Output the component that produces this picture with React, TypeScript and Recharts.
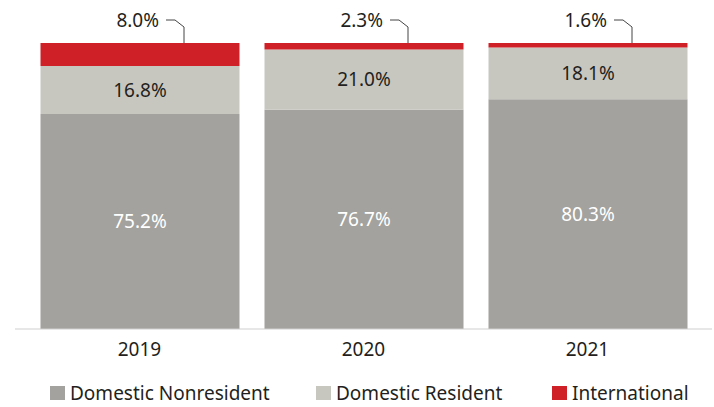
import { BarChart, Bar, XAxis, YAxis, LabelList } from "recharts";

const YEARS = ["2019", "2020", "2021"];
const DOMESTIC_NONRESIDENT = [75.2, 76.7, 80.3];
const DOMESTIC_RESIDENT = [16.8, 21.0, 18.1];
const INTERNATIONAL = [8.0, 2.3, 1.6];

const SERIES = [
  { key: "nonresident", name: "Domestic Nonresident", color: "#a3a29e" },
  { key: "resident", name: "Domestic Resident", color: "#c8c7bf" },
  { key: "international", name: "International", color: "#cf2027" },
];

const FONT = "'Noto Sans', sans-serif";
const TEXT = "#231f20";
const FS = 19;

const data = YEARS.map((year, i) => ({
  year,
  nonresident: DOMESTIC_NONRESIDENT[i],
  resident: DOMESTIC_RESIDENT[i],
  international: INTERNATIONAL[i],
}));

const fmt = (v: any) => `${Number(v).toFixed(1)}%`;

// callout above the bar with a little bent leader line
function Callout(props: any) {
  const { x, y, width, value } = props;
  const cx = x + width / 2;
  const ty = 20;
  return (
    <g>
      <text
        x={cx + 19}
        y={ty}
        dy="0.35em"
        textAnchor="end"
        fill={TEXT}
        fontSize={FS}
        fontFamily={FONT}
      >
        {fmt(value)}
      </text>
      <path
        d={`M${cx + 26},${ty} H${cx + 35} L${cx + 44},${ty + 7} V${y}`}
        fill="none"
        stroke="#444"
        strokeWidth={1}
      />
    </g>
  );
}

const legendLeft = [50, 316, 552];

export default function App() {
  return (
    <div style={{ position: "absolute", left: 0, top: 0, width: 714, height: 407 }}>
      <BarChart
        width={714}
        height={407}
        data={data}
        margin={{ top: 43, right: 2, bottom: 38, left: 15 }}
      >
        <XAxis
          dataKey="year"
          padding={{ left: 12.5, right: 12.5 }}
          axisLine={{ stroke: "#cfcfcf" }}
          tickLine={false}
          tickSize={0}
          tickMargin={14}
          height={40}
          tick={{ fill: TEXT, fontSize: FS, fontFamily: FONT }}
        />
        <YAxis hide domain={[0, 100]} />
        <Bar dataKey="nonresident" stackId="a" fill={SERIES[0].color} barSize={199} isAnimationActive={false}>
          <LabelList
            dataKey="nonresident"
            position="center"
            formatter={fmt}
            fill="#ffffff"
            fontSize={FS}
            fontFamily={FONT}
          />
        </Bar>
        <Bar dataKey="resident" stackId="a" fill={SERIES[1].color} barSize={199} isAnimationActive={false}>
          <LabelList
            dataKey="resident"
            position="center"
            formatter={fmt}
            fill={TEXT}
            fontSize={FS}
            fontFamily={FONT}
          />
        </Bar>
        <Bar dataKey="international" stackId="a" fill={SERIES[2].color} barSize={199} isAnimationActive={false}>
          <LabelList dataKey="international" content={Callout} />
        </Bar>
      </BarChart>
      {SERIES.map((s, i) => (
        <div
          key={s.key}
          style={{
            position: "absolute",
            left: legendLeft[i],
            top: 381,
            display: "flex",
            alignItems: "center",
            whiteSpace: "nowrap",
            fontFamily: FONT,
            fontSize: FS,
            color: TEXT,
            lineHeight: "24px",
          }}
        >
          <span style={{ width: 15, height: 14, background: s.color, marginRight: 5, display: "inline-block" }} />
          {s.name}
        </div>
      ))}
    </div>
  );
}
